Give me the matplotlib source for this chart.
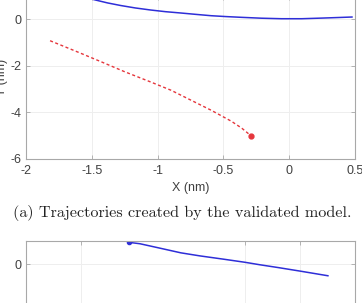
import matplotlib
matplotlib.use("Agg")
import matplotlib.pyplot as plt

# Top panel data
blue_top_x = [-1.60, -1.472, -1.38, -1.281, -1.17, -1.052, -0.94, -0.823, -0.70, -0.593, -0.48, -0.364, -0.21, -0.058, 0.095, 0.248, 0.36, 0.477]
blue_top_y = [1.00, 0.815, 0.69, 0.58, 0.475, 0.386, 0.315, 0.258, 0.195, 0.142, 0.105, 0.073, 0.035, 0.013, 0.013, 0.040, 0.062, 0.086]
red_x = [-1.817, -1.60, -1.434, -1.25, -1.052, -0.899, -0.746, -0.593, -0.440, -0.36, -0.287]
red_y = [-0.93, -1.43, -1.82, -2.26, -2.70, -3.05, -3.48, -3.91, -4.38, -4.68, -5.02]

# Bottom panel data
blue_bot_x = [-1.061, -0.961, -0.778, -0.587, -0.414, -0.20, -0.004, 0.133, 0.30, 0.498, 0.753]
blue_bot_y = [0.93, 0.87, 0.68, 0.48, 0.35, 0.21, 0.077, -0.03, -0.15, -0.30, -0.50]

top_xticks = [-2, -1.5, -1, -0.5, 0, 0.5]
top_xticklabels = ["-2", "-1.5", "-1", "-0.5", "0", "0.5"]
top_yticks = [-6, -4, -2, 0]
top_yticklabels = ["-6", "-4", "-2", "0"]
bot_xticks = [-1.5, 0, 0.5]
bot_yticks = [0]
bot_yticklabels = ["0"]

caption = "(a) Trajectories created by the validated model."

plt.rcParams['font.family'] = ['Liberation Sans', 'DejaVu Sans']

fig = plt.figure(figsize=(3.62, 3.03), dpi=100)

spine_c = '#a8a8a8'
tick_c = '#404040'
grid_c = '#eeeeee'

def style(ax):
    for s in ax.spines.values():
        s.set_color(spine_c)
        s.set_linewidth(0.8)
    ax.tick_params(direction='in', length=3, width=0.6, color=spine_c,
                   labelcolor=tick_c, labelsize=9, top=True, right=True)
    ax.tick_params(axis='x', pad=4)
    ax.tick_params(axis='y', pad=3)
    ax.grid(True, color=grid_c, linewidth=0.7)
    ax.set_axisbelow(True)

# Top axes
ax1 = fig.add_axes([26/362, (303-159)/303, 329/362, 163.3/303])
style(ax1)
ax1.plot(blue_top_x, blue_top_y, color='#2e2ed8', linewidth=1.1)
ax1.plot(red_x, red_y, color='#e5363c', linewidth=1.0, linestyle=(0, (2.2, 1.8)))
ax1.plot(red_x[-1], red_y[-1], 'o', color='#e5363c', markersize=3.5)
ax1.set_xlim(-2, 0.5)
ax1.set_ylim(-6, 1)
ax1.set_xticks(top_xticks)
ax1.set_xticklabels(top_xticklabels)
ax1.set_yticks(top_yticks)
ax1.set_yticklabels(top_yticklabels)
ax1.set_xlabel("X (nm)", fontsize=9, color=tick_c, labelpad=4)
ax1.set_ylabel("Y (nm)", fontsize=9, color=tick_c)
ax1.yaxis.set_label_coords(-0.055, 0.5)

fig.text(0.504, (303-213)/303, caption, fontsize=11.6, family='cmr10',
         ha='center', va='center', color='#222222')

# Bottom axes
ax2 = fig.add_axes([26/362, (303-404.3)/303, 329/362, 163.6/303])
style(ax2)
ax2.plot(blue_bot_x, blue_bot_y, color='#2e2ed8', linewidth=1.1)
ax2.plot(blue_bot_x[0], blue_bot_y[0], 'o', color='#2e2ed8', markersize=3)
ax2.set_xlim(-2, 1)
ax2.set_ylim(-6, 1)
ax2.set_xticks(bot_xticks)
ax2.set_xticklabels([])
ax2.set_yticks(bot_yticks)
ax2.set_yticklabels(bot_yticklabels)

fig.savefig("out.png", dpi=100)
